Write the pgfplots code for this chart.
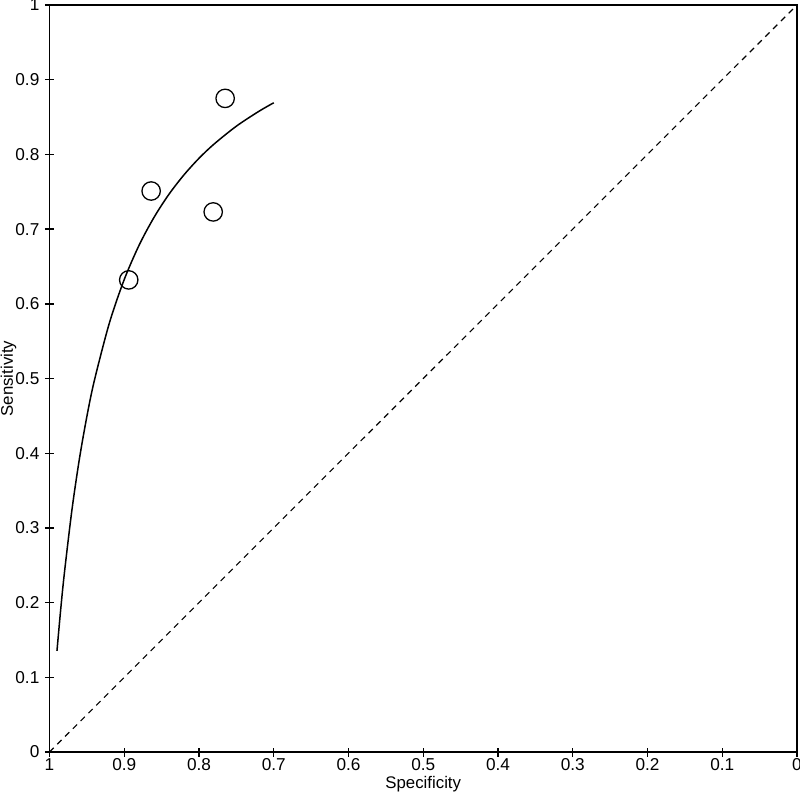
\documentclass[border=0pt]{standalone}
\usepackage{pgfplots}
\pgfplotsset{compat=1.18}
\usepackage{fontspec}
\setmainfont{Liberation Sans}
\begin{document}
\begin{tikzpicture}
\begin{axis}[
  name=ax,
  scale only axis,
  width=373.75pt, height=373.5pt,
  xmin=0, xmax=1, ymin=0, ymax=1,
  x dir=reverse,
  xtick={0,0.1,...,1}, ytick={0,0.1,...,1},
  xticklabels={0,0.1,0.2,0.3,0.4,0.5,0.6,0.7,0.8,0.9,1},
  yticklabels={0,0.1,0.2,0.3,0.4,0.5,0.6,0.7,0.8,0.9,1},
  tick align=center,
  major tick length=4.5pt,
  xtick pos=bottom, ytick pos=left,
  tick style={black, line width=0.7pt},
  axis line style={line width=0.7pt},
  ticklabel style={font=\fontsize{8.6}{10}\selectfont},
  label style={font=\fontsize{8.4}{10}\selectfont},
  xlabel={Specificity}, ylabel={Sensitivity},
  xlabel style={yshift=4.0pt},
  ylabel style={yshift=-7.4pt},
  yticklabel style={xshift=0.7pt},
  xticklabel style={yshift=2.4pt},
  clip=false,
]
\addplot[black, line width=0.55pt, dash pattern=on 3pt off 2.5pt] coordinates {(1,0) (0,1)};
\addplot[black, line width=0.75pt, smooth] coordinates {
(0.990,0.1353) (0.985,0.1909) (0.980,0.2402) (0.970,0.3239) (0.960,0.3923)
(0.950,0.4491) (0.940,0.4972) (0.920,0.5739) (0.900,0.6325) (0.880,0.6787)
(0.860,0.7160) (0.840,0.7469) (0.820,0.7727) (0.800,0.7948) (0.780,0.8137)
(0.750,0.8378) (0.720,0.8576) (0.700,0.8691)};
\addplot[only marks, mark=o, mark size=4.6pt, mark options={line width=0.65pt, black}] coordinates {
(0.894,0.632) (0.864,0.751) (0.781,0.723) (0.765,0.875)};
\end{axis}
\pgfresetboundingbox
\path[use as bounding box] ([xshift=-24.75pt,yshift=-21.5pt]ax.south west) rectangle ([xshift=1.5pt,yshift=2.5pt]ax.north east);
\end{tikzpicture}
\end{document}
